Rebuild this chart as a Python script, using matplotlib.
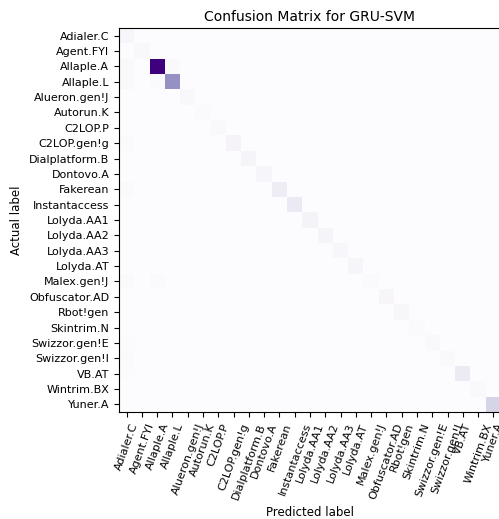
import numpy as np
import matplotlib
matplotlib.use("Agg")
import matplotlib.pyplot as plt

classes = ["Adialer.C", "Agent.FYI", "Allaple.A", "Allaple.L", "Alueron.gen!J",
           "Autorun.K", "C2LOP.P", "C2LOP.gen!g", "Dialplatform.B", "Dontovo.A",
           "Fakerean", "Instantaccess", "Lolyda.AA1", "Lolyda.AA2", "Lolyda.AA3",
           "Lolyda.AT", "Malex.gen!J", "Obfuscator.AD", "Rbot!gen", "Skintrim.N",
           "Swizzor.gen!E", "Swizzor.gen!I", "VB.AT", "Wintrim.BX", "Yuner.A"]

diag = [12, 11, 295, 159, 10, 5, 8, 20, 18, 16,
        38, 43, 21, 18, 12, 16, 5, 14, 12, 4,
        6, 7, 41, 8, 80]

# off-diagonal misclassifications (row, col, count)
off_rows = [0, 2, 2, 3, 3, 7, 10, 16, 16, 20, 21, 22]
off_cols = [0, 0, 3, 0, 2, 0, 0, 0, 2, 0, 0, 0]
off_vals = [0, 8, 6, 7, 5, 4, 5, 5, 4, 3, 4, 3]

n = len(classes)
cm = np.zeros((n, n))
cm[np.arange(n), np.arange(n)] = diag
for r, c, v in zip(off_rows, off_cols, off_vals):
    cm[r, c] += v

fig = plt.figure(figsize=(4.99, 5.19), dpi=100)
ax = fig.add_axes([119 / 499, 107 / 519, 382 / 499, 384 / 519])
ax.imshow(cm, interpolation="nearest", cmap=plt.cm.Purples, aspect="auto")
ax.set_title("Confusion Matrix for GRU-SVM", fontsize=10, pad=5)
ticks = np.arange(n)
ax.set_xticks(ticks)
ax.set_xticklabels(classes, rotation=70, fontsize=8)
ax.set_yticks(ticks)
ax.set_yticklabels(classes, fontsize=8)
ax.set_xlabel("Predicted label", fontsize=8.5)
ax.set_ylabel("Actual label", fontsize=8.5)

fig.savefig("out.png", dpi=100)
